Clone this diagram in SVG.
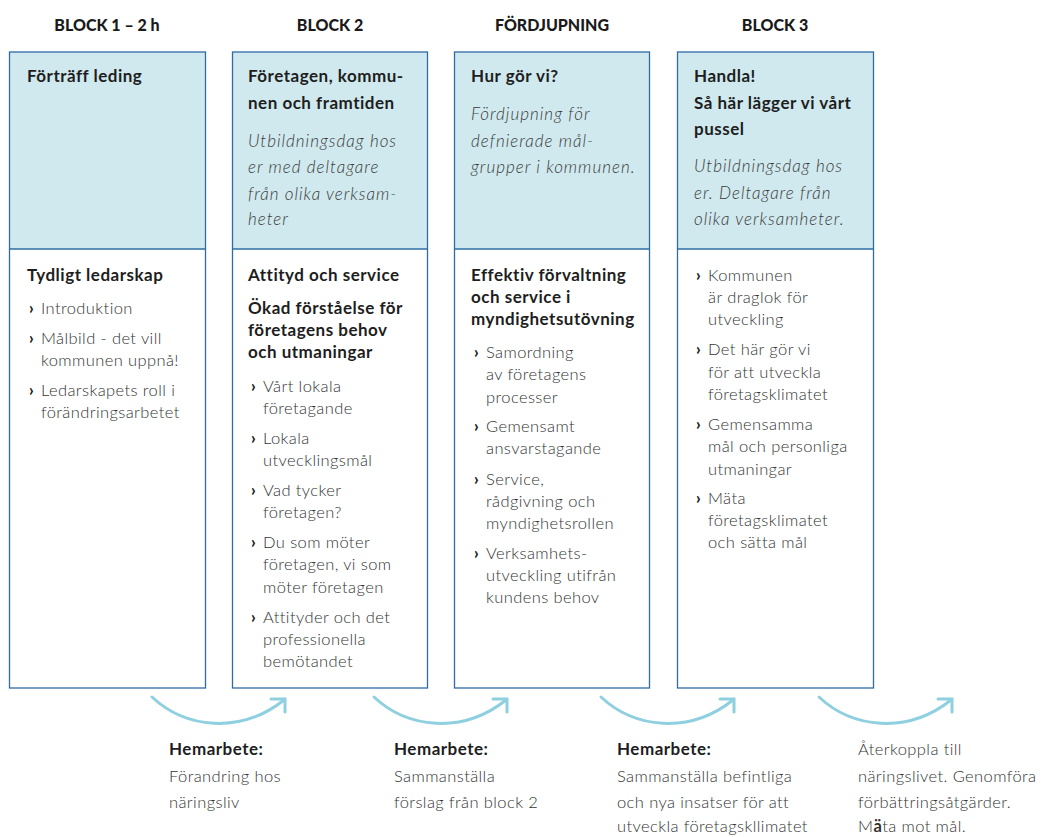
<svg xmlns="http://www.w3.org/2000/svg" width="1041" height="837" viewBox="0 0 1041 837">
<defs>
<style>
.bg{fill:#ffffff}
.hdr{fill:#d0e9ee}
.box{fill:none;stroke:#2e6ca6;stroke-width:1.3}
.title{font-family:Lato,"Liberation Sans",sans-serif;font-weight:900;font-size:16px;fill:#1a1a1a;text-anchor:middle}
.b{font-family:Lato,"Liberation Sans",sans-serif;font-weight:700;font-size:17px;letter-spacing:0.5px;fill:#1e1e1e}
.i{font-family:Lato,"Liberation Sans",sans-serif;font-style:italic;font-weight:300;font-size:17px;letter-spacing:1px;fill:#3a3a3a}
.t{font-family:Lato,"Liberation Sans",sans-serif;font-weight:300;font-size:16.5px;letter-spacing:0.4px;fill:#333333}
.bul{font-family:Lato,"Liberation Sans",sans-serif;font-weight:900;font-size:16px;fill:#222222}
.arc{fill:none;stroke:#8fd0e0;stroke-width:3;stroke-linecap:round}
</style>
</defs>
<rect class="bg" x="0" y="0" width="1041" height="837"/>

<g id="titles">
<text class="title" x="107" y="31">BLOCK 1 – 2 h</text>
<text class="title" x="330" y="31">BLOCK 2</text>
<text class="title" x="552" y="31">FÖRDJUPNING</text>
<text class="title" x="775" y="31">BLOCK 3</text>
</g>

<g id="block1">
<rect class="hdr" x="9.5" y="52" width="196" height="197"/>
<rect class="box" x="9.5" y="52" width="196" height="636"/>
<line class="box" x1="9.5" y1="249" x2="205.5" y2="249"/>
<text class="b" x="27" y="82">Förträff leding</text>
<text class="b" x="27" y="281">Tydligt ledarskap</text>
<text class="bul" x="29" y="314">›</text><text class="t" x="41" y="314">Introduktion</text>
<text class="bul" x="29" y="344">›</text><text class="t" x="41" y="344">Målbild - det vill</text>
<text class="t" x="41" y="366">kommunen uppnå!</text>
<text class="bul" x="29" y="396">›</text><text class="t" x="41" y="396">Ledarskapets roll i</text>
<text class="t" x="41" y="418">förändringsarbetet</text>
</g>

<g id="block2">
<rect class="hdr" x="232.5" y="52" width="195" height="197"/>
<rect class="box" x="232.5" y="52" width="195" height="636"/>
<line class="box" x1="232.5" y1="249" x2="427.5" y2="249"/>
<text class="b" x="248" y="82">Företagen, kommu-</text>
<text class="b" x="248" y="109">nen och framtiden</text>
<text class="i" x="248" y="147">Utbildningsdag hos</text>
<text class="i" x="248" y="173">er med deltagare</text>
<text class="i" x="248" y="200">från olika verksam-</text>
<text class="i" x="248" y="225">heter</text>
<text class="b" x="248" y="281">Attityd och service</text>
<text class="b" x="248" y="314">Ökad förståelse för</text>
<text class="b" x="248" y="336">företagens behov</text>
<text class="b" x="248" y="358">och utmaningar</text>
<text class="bul" x="251" y="392">›</text><text class="t" x="263" y="392">Vårt lokala</text>
<text class="t" x="263" y="414">företagande</text>
<text class="bul" x="251" y="444">›</text><text class="t" x="263" y="444">Lokala</text>
<text class="t" x="263" y="466">utvecklingsmål</text>
<text class="bul" x="251" y="496">›</text><text class="t" x="263" y="496">Vad tycker</text>
<text class="t" x="263" y="518">företagen?</text>
<text class="bul" x="251" y="548">›</text><text class="t" x="263" y="548">Du som möter</text>
<text class="t" x="263" y="570">företagen, vi som</text>
<text class="t" x="263" y="593">möter företagen</text>
<text class="bul" x="251" y="623">›</text><text class="t" x="263" y="623">Attityder och det</text>
<text class="t" x="263" y="645">professionella</text>
<text class="t" x="263" y="667">bemötandet</text>
</g>

<g id="fordjupning">
<rect class="hdr" x="454.5" y="52" width="195" height="197"/>
<rect class="box" x="454.5" y="52" width="195" height="636"/>
<line class="box" x1="454.5" y1="249" x2="649.5" y2="249"/>
<text class="b" x="471" y="82">Hur gör vi?</text>
<text class="i" x="471" y="120">Fördjupning för</text>
<text class="i" x="471" y="147">defnierade mål-</text>
<text class="i" x="471" y="173">grupper i kommunen.</text>
<text class="b" x="471" y="281">Effektiv förvaltning</text>
<text class="b" x="471" y="303">och service i</text>
<text class="b" x="471" y="325">myndighetsutövning</text>
<text class="bul" x="474" y="358">›</text><text class="t" x="486" y="358">Samordning</text>
<text class="t" x="486" y="380">av företagens</text>
<text class="t" x="486" y="403">processer</text>
<text class="bul" x="474" y="432">›</text><text class="t" x="486" y="432">Gemensamt</text>
<text class="t" x="486" y="454">ansvarstagande</text>
<text class="bul" x="474" y="485">›</text><text class="t" x="486" y="485">Service,</text>
<text class="t" x="486" y="507">rådgivning och</text>
<text class="t" x="486" y="529">myndighetsrollen</text>
<text class="bul" x="474" y="559">›</text><text class="t" x="486" y="559">Verksamhets-</text>
<text class="t" x="486" y="581">utveckling utifrån</text>
<text class="t" x="486" y="603">kundens behov</text>
</g>

<g id="block3">
<rect class="hdr" x="677.5" y="52" width="196" height="197"/>
<rect class="box" x="677.5" y="52" width="196" height="636"/>
<line class="box" x1="677.5" y1="249" x2="873.5" y2="249"/>
<text class="b" x="694" y="82">Handla!</text>
<text class="b" x="694" y="109">Så här lägger vi vårt</text>
<text class="b" x="694" y="135">pussel</text>
<text class="i" x="694" y="172">Utbildningsdag hos</text>
<text class="i" x="694" y="199">er. Deltagare från</text>
<text class="i" x="694" y="225">olika verksamheter.</text>
<text class="bul" x="696" y="281">›</text><text class="t" x="708" y="281">Kommunen</text>
<text class="t" x="708" y="303">är draglok för</text>
<text class="t" x="708" y="325">utveckling</text>
<text class="bul" x="696" y="355">›</text><text class="t" x="708" y="355">Det här gör vi</text>
<text class="t" x="708" y="378">för att utveckla</text>
<text class="t" x="708" y="400">företagsklimatet</text>
<text class="bul" x="696" y="430">›</text><text class="t" x="708" y="430">Gemensamma</text>
<text class="t" x="708" y="452">mål och personliga</text>
<text class="t" x="708" y="475">utmaningar</text>
<text class="bul" x="696" y="504">›</text><text class="t" x="708" y="504">Mäta</text>
<text class="t" x="708" y="526">företagsklimatet</text>
<text class="t" x="708" y="548">och sätta mål</text>
</g>

<g id="connectors">
<path class="arc" d="M152,697 C185,728 240,735 284,700"/>
<path class="arc" d="M271,699 L285,699 L285,712"/>
<path class="arc" d="M374,697 C407,728 462,735 506,700"/>
<path class="arc" d="M493,699 L507,699 L507,712"/>
<path class="arc" d="M601,697 C634,728 689,735 733,700"/>
<path class="arc" d="M720,699 L734,699 L734,712"/>
<path class="arc" d="M819,697 C852,728 907,735 951,700"/>
<path class="arc" d="M938,699 L952,699 L952,712"/>
</g>

<g id="homework1">
<text class="b" x="169" y="755">Hemarbete:</text>
<text class="t" x="169" y="782">Förandring hos</text>
<text class="t" x="169" y="808">näringsliv</text>
</g>
<g id="homework2">
<text class="b" x="394" y="755">Hemarbete:</text>
<text class="t" x="394" y="782">Sammanställa</text>
<text class="t" x="394" y="808">förslag från block 2</text>
</g>
<g id="homework3">
<text class="b" x="617" y="755">Hemarbete:</text>
<text class="t" x="617" y="782">Sammanställa befintliga</text>
<text class="t" x="617" y="808">och nya insatser för att</text>
<text class="t" x="617" y="832">utveckla företagskllimatet</text>
</g>
<g id="feedback">
<text class="t" x="858" y="755">Återkoppla till</text>
<text class="t" x="858" y="782">näringslivet. Genomföra</text>
<text class="t" x="858" y="808">förbättringsåtgärder.</text>
<text class="t" x="858" y="832">M<tspan font-weight="700">ä</tspan>ta mot mål.</text>
</g>
</svg>
